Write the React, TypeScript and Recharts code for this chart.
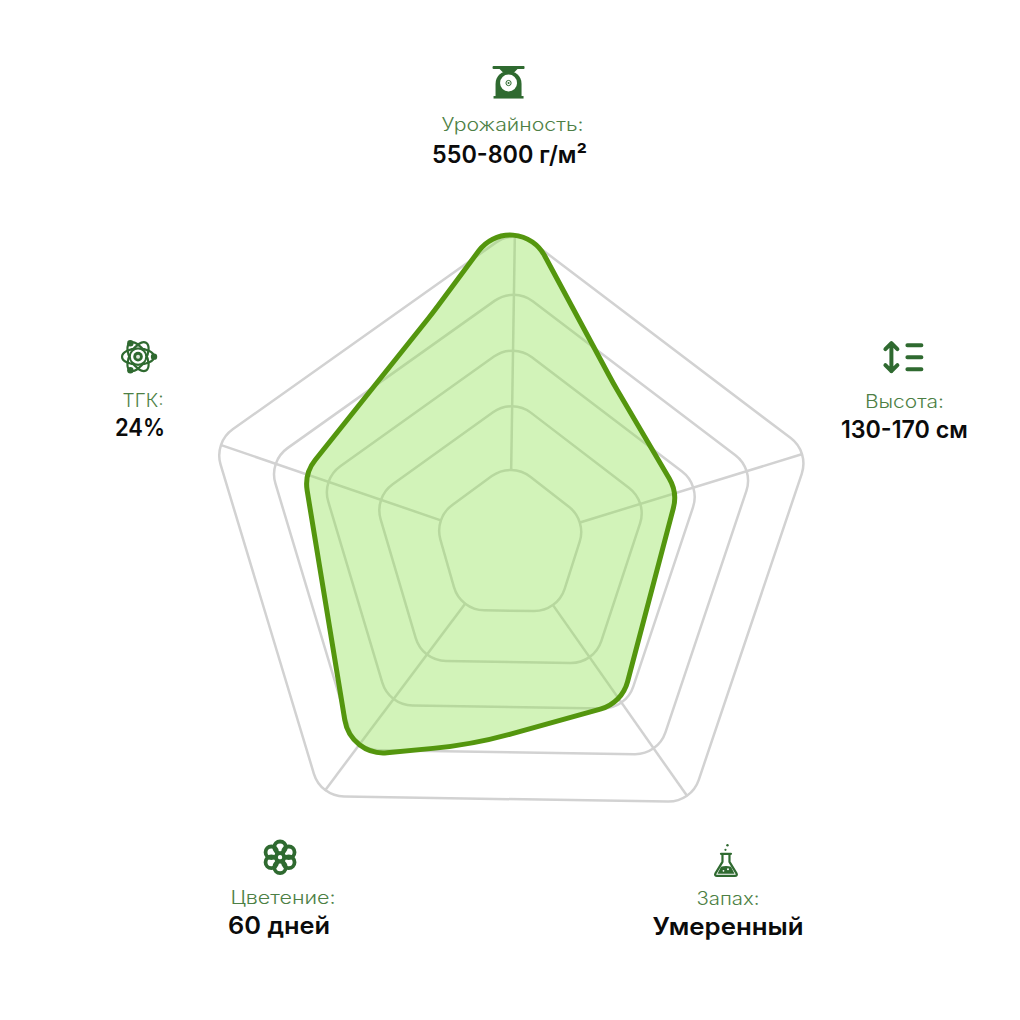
import React from 'react';
import { RadarChart, Radar, PolarAngleAxis, PolarRadiusAxis } from 'recharts';

const categories = ['Урожайность:', 'Высота:', 'Запах:', 'Цветение:', 'ТГК:'];
const valueLabels = ['550-800 г/м²', '130-170 см', 'Умеренный', '60 дней', '24%'];
const strain = [99.3, 50.8, 56.4, 76.9, 63];
const ring1 = [23.8, 23.2, 23.9, 23.9, 23.2];
const ring2 = [42.2, 41.6, 42.3, 42.3, 41.6];
const ring3 = [58.3, 57.7, 58.4, 58.4, 57.7];
const ring4 = [74.5, 73.9, 74.6, 74.6, 73.9];
const ring5 = [91.3, 90.7, 91.4, 91.4, 90.7];
const spokeStart = [21.4, 21.2, 21.4, 21.4, 21.2];
const spokeEnd = [89.3, 88.7, 89.4, 89.4, 88.7];

const data = categories.map((name, i) => ({
  name,
  strain: strain[i],
  ring1: ring1[i],
  ring2: ring2[i],
  ring3: ring3[i],
  ring4: ring4[i],
  ring5: ring5[i],
  spokeStart: spokeStart[i],
  spokeEnd: spokeEnd[i],
}));

const GREY = '#d2d2d2';
const ICON = '#2f6a30';
const FONT = 'Inter, "Open Sans", sans-serif';

type V = { x: number; y: number; r: number };

function roundedPath(v: V[]) {
  const n = v.length;
  let d = '';
  v.forEach((p, i) => {
    const a = v[(i - 1 + n) % n];
    const b = v[(i + 1) % n];
    const ax = a.x - p.x, ay = a.y - p.y, bx = b.x - p.x, by = b.y - p.y;
    const la = Math.hypot(ax, ay), lb = Math.hypot(bx, by);
    const cos = (ax * bx + ay * by) / (la * lb);
    const half = Math.acos(Math.max(-1, Math.min(1, cos))) / 2;
    const t = Math.min(p.r / Math.tan(half), la * 0.48, lb * 0.48);
    const r = t * Math.tan(half);
    const sx = p.x + (ax / la) * t, sy = p.y + (ay / la) * t;
    const ex = p.x + (bx / lb) * t, ey = p.y + (by / lb) * t;
    const sweep = ax * by - ay * bx < 0 ? 1 : 0;
    d += `${i === 0 ? 'M' : 'L'}${sx.toFixed(2)} ${sy.toFixed(2)}A${r.toFixed(2)} ${r.toFixed(2)} 0 0 ${sweep} ${ex.toFixed(2)} ${ey.toFixed(2)}`;
  });
  return d + 'Z';
}

const RingShape = (props: any) => (
  <path
    d={roundedPath(props.points.map((p: any) => ({ x: p.x, y: p.y, r: 32 })))}
    fill="none"
    stroke={GREY}
    strokeWidth={2.5}
  />
);

const SpokeShape = (props: any) => (
  <g stroke={GREY} strokeWidth={2.5}>
    {props.points.map((p: any, i: number) => {
      const k = p.payload.spokeStart / p.payload.spokeEnd;
      return (
        <line key={i} x1={p.cx + (p.x - p.cx) * k} y1={p.cy + (p.y - p.cy) * k} x2={p.x} y2={p.y} />
      );
    })}
  </g>
);

// Slight bow of each edge of the series outline: [fraction along edge, offset px outward]
const edgeBow: [number, number][] = [[0.62, -3], [0.5, 0], [0.56, 12], [0.5, 0], [0.6, -3]];

const StrainShape = (props: any) => {
  const pts = props.points;
  const out: V[] = [];
  pts.forEach((p: any, i: number) => {
    out.push({ x: p.x, y: p.y, r: 39 });
    const q = pts[(i + 1) % pts.length];
    const [f, off] = edgeBow[i];
    if (off !== 0) {
      const dx = q.x - p.x, dy = q.y - p.y;
      const l = Math.hypot(dx, dy);
      out.push({ x: p.x + dx * f + (dy / l) * off, y: p.y + dy * f + (-dx / l) * off, r: 450 });
    }
  });
  return (
    <path
      d={roundedPath(out)}
      fill="#8fe04f"
      fillOpacity={0.4}
      stroke="#54960e"
      strokeWidth={5}
      strokeLinejoin="round"
    />
  );
};

const ScaleIcon = () => (
  <g fill={ICON}>
    <rect x={-16} y={-16} width={32} height={3} rx={1} />
    <path d="M-9 -13H9L6 -10H-6Z" />
    <path d="M-13 15V2C-13 -7 -6 -11 0 -11C6 -11 13 -7 13 2V15Z" />
    <rect x={-15} y={14} width={30} height={2.5} />
    <circle cx={0} cy={1} r={8.5} fill="#fff" />
    <circle cx={0} cy={1} r={2.6} fill="none" stroke={ICON} strokeWidth={1} />
    <circle cx={0} cy={1} r={1} />
  </g>
);

const HeightIcon = () => (
  <g fill="none" stroke={ICON} strokeWidth={4} strokeLinecap="round" strokeLinejoin="round">
    <path d="M-13 -14V14M-19 -8L-13 -14L-7 -8M-19 8L-13 14L-7 8" />
    <path d="M3 -12H17M3 0H17M3 12H17" />
  </g>
);

const FlaskIcon = () => (
  <g>
    <path d="M-5 -7H5M-3.5 -7V1L-10.5 12.5C-11.5 14.5 -10.5 15 -9 15H9C10.5 15 11.5 14.5 10.5 12.5L3.5 1V-7" fill="none" stroke={ICON} strokeWidth={2.2} strokeLinecap="round" strokeLinejoin="round" />
    <path d="M-5 6C-2 5 2 5 5 6L8.5 13H-8.5Z" fill={ICON} />
    <circle cx={2} cy={8.5} r={1} fill="#fff" />
    <circle cx={-2.5} cy={10} r={0.9} fill="#fff" />
    <circle cx={-0.5} cy={-11} r={1.1} fill={ICON} />
    <circle cx={1.5} cy={-15.5} r={1.2} fill={ICON} />
  </g>
);

const FlowerIcon = () => (
  <g fill="none" stroke={ICON} strokeWidth={3.8}>
    <circle r={5.8} cx={0} cy={-10} />
    <circle r={5.8} cx={8.7} cy={-5} />
    <circle r={5.8} cx={8.7} cy={5} />
    <circle r={5.8} cx={0} cy={10} />
    <circle r={5.8} cx={-8.7} cy={5} />
    <circle r={5.8} cx={-8.7} cy={-5} />
    <circle r={3} cx={0} cy={0} strokeWidth={1.6} />
  </g>
);

const AtomIcon = () => (
  <g>
    <g fill="none" stroke={ICON} strokeWidth={2.2}>
      <ellipse rx={16} ry={8} />
      <ellipse rx={16} ry={8} transform="rotate(60)" />
      <ellipse rx={16} ry={8} transform="rotate(120)" />
    </g>
    <circle r={8} fill="#fff" />
    <circle r={8} fill="none" stroke={ICON} strokeWidth={1.6} />
    <circle r={4.8} fill={ICON} />
    <circle r={2} fill="#dfe9dc" />
    <circle cx={-7.7} cy={-13.4} r={3.2} fill={ICON} />
    <circle cx={16} cy={0} r={3.2} fill={ICON} />
    <circle cx={-7.7} cy={13.6} r={3.2} fill={ICON} />
  </g>
);

const icons = [ScaleIcon, HeightIcon, FlaskIcon, FlowerIcon, AtomIcon];

// Offsets from the tick anchor: icon centre, caption centre/baseline, value centre/baseline
const tickLayout = [
  { icon: [-7, -109], label: [-3, -60], value: [-6, -28] },
  { icon: [57, -83], label: [57, -32], value: [57, -2] },
  { icon: [13, 28], label: [15, 72], value: [15, 102] },
  { icon: [-18, 31], label: [-15, 78], value: [-19, 108] },
  { icon: [-38, -73], label: [-33, -23], value: [-36, 6] },
];

const labelWidths = [142, 79, 63, 105, 41];
const valueWidths = [155, 127, 151, 102, 50];

const Tick = (props: any) => {
  const i = categories.indexOf(props.payload.value);
  const Icon = icons[i];
  const l = tickLayout[i];
  const { x, y } = props;
  return (
    <g>
      <g transform={`translate(${x + l.icon[0]},${y + l.icon[1]})`}>
        <Icon />
      </g>
      <text
        x={x + l.label[0]}
        y={y + l.label[1]}
        textAnchor="middle"
        fontFamily={FONT}
        fontSize={18}
        fontWeight={300}
        fill="#4d7f45"
        textLength={labelWidths[i]}
        lengthAdjust="spacingAndGlyphs"
      >
        {categories[i]}
      </text>
      <text
        x={x + l.value[0]}
        y={y + l.value[1]}
        textAnchor="middle"
        fontFamily={FONT}
        fontSize={24}
        fontWeight={600}
        fill="#0b0b0b"
        textLength={valueWidths[i]}
        lengthAdjust="spacingAndGlyphs"
      >
        {valueLabels[i]}
      </text>
    </g>
  );
};

export default function App() {
  return (
    <div style={{ position: 'absolute', left: 0, top: 0, width: 1020, height: 1020, background: '#fff' }}>
      <RadarChart
        width={1020}
        height={1020}
        data={data}
        cx={510}
        cy={544}
        outerRadius={345}
        startAngle={89.1}
        endAngle={-270.9}
        margin={{ top: 0, right: 0, bottom: 0, left: 0 }}
      >
        <PolarAngleAxis dataKey="name" tick={<Tick />} tickLine={false} axisLine={false} tickSize={0} />
        <PolarRadiusAxis domain={[0, 100]} tick={false} axisLine={false} tickLine={false} />
        <Radar dataKey="spokeEnd" shape={SpokeShape} isAnimationActive={false} />
        <Radar dataKey="ring5" shape={RingShape} isAnimationActive={false} />
        <Radar dataKey="ring4" shape={RingShape} isAnimationActive={false} />
        <Radar dataKey="ring3" shape={RingShape} isAnimationActive={false} />
        <Radar dataKey="ring2" shape={RingShape} isAnimationActive={false} />
        <Radar dataKey="ring1" shape={RingShape} isAnimationActive={false} />
        <Radar dataKey="strain" shape={StrainShape} isAnimationActive={false} />
      </RadarChart>
    </div>
  );
}
